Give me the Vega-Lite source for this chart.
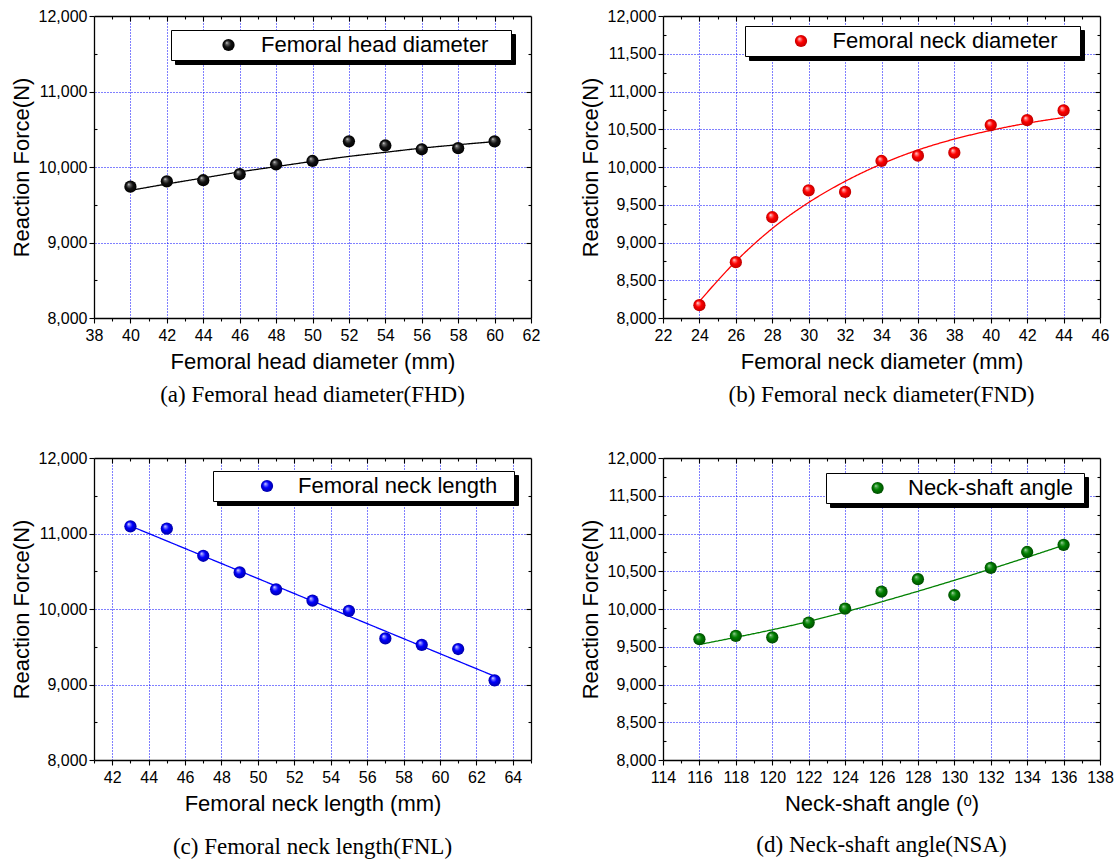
{
"$schema":"https://vega.github.io/schema/vega-lite/v6.json",
"background":"white",
"padding":{"left":10,"top":8,"right":5,"bottom":5},
"columns":2,
"spacing":{"row":43,"column":39},
"datasets":{
"fhd":[{"x":40,"force":9740,"series":"Femoral head diameter"},{"x":42,"force":9810,"series":"Femoral head diameter"},{"x":44,"force":9825,"series":"Femoral head diameter"},{"x":46,"force":9905,"series":"Femoral head diameter"},{"x":48,"force":10035,"series":"Femoral head diameter"},{"x":50,"force":10080,"series":"Femoral head diameter"},{"x":52,"force":10340,"series":"Femoral head diameter"},{"x":54,"force":10285,"series":"Femoral head diameter"},{"x":56,"force":10235,"series":"Femoral head diameter"},{"x":58,"force":10250,"series":"Femoral head diameter"},{"x":60,"force":10340,"series":"Femoral head diameter"}],
"fhd_fit":[{"x":40,"force":9690,"series":"Femoral head diameter"},{"x":42,"force":9775,"series":"Femoral head diameter"},{"x":44,"force":9855,"series":"Femoral head diameter"},{"x":46,"force":9935,"series":"Femoral head diameter"},{"x":48,"force":10005,"series":"Femoral head diameter"},{"x":50,"force":10075,"series":"Femoral head diameter"},{"x":52,"force":10140,"series":"Femoral head diameter"},{"x":54,"force":10195,"series":"Femoral head diameter"},{"x":56,"force":10250,"series":"Femoral head diameter"},{"x":58,"force":10295,"series":"Femoral head diameter"},{"x":60,"force":10336,"series":"Femoral head diameter"}],
"fnd":[{"x":24,"force":8170,"series":"Femoral neck diameter"},{"x":26,"force":8740,"series":"Femoral neck diameter"},{"x":28,"force":9335,"series":"Femoral neck diameter"},{"x":30,"force":9690,"series":"Femoral neck diameter"},{"x":32,"force":9670,"series":"Femoral neck diameter"},{"x":34,"force":10080,"series":"Femoral neck diameter"},{"x":36,"force":10150,"series":"Femoral neck diameter"},{"x":38,"force":10190,"series":"Femoral neck diameter"},{"x":40,"force":10555,"series":"Femoral neck diameter"},{"x":42,"force":10620,"series":"Femoral neck diameter"},{"x":44,"force":10750,"series":"Femoral neck diameter"}],
"fnd_fit":[{"x":24,"force":8220,"series":"Femoral neck diameter"},{"x":26,"force":8750,"series":"Femoral neck diameter"},{"x":28,"force":9185,"series":"Femoral neck diameter"},{"x":30,"force":9530,"series":"Femoral neck diameter"},{"x":32,"force":9810,"series":"Femoral neck diameter"},{"x":34,"force":10040,"series":"Femoral neck diameter"},{"x":36,"force":10225,"series":"Femoral neck diameter"},{"x":38,"force":10370,"series":"Femoral neck diameter"},{"x":40,"force":10485,"series":"Femoral neck diameter"},{"x":42,"force":10580,"series":"Femoral neck diameter"},{"x":44,"force":10655,"series":"Femoral neck diameter"}],
"fnl":[{"x":43,"force":11095,"series":"Femoral neck length"},{"x":45,"force":11065,"series":"Femoral neck length"},{"x":47,"force":10705,"series":"Femoral neck length"},{"x":49,"force":10485,"series":"Femoral neck length"},{"x":51,"force":10260,"series":"Femoral neck length"},{"x":53,"force":10110,"series":"Femoral neck length"},{"x":55,"force":9975,"series":"Femoral neck length"},{"x":57,"force":9610,"series":"Femoral neck length"},{"x":59,"force":9525,"series":"Femoral neck length"},{"x":61,"force":9470,"series":"Femoral neck length"},{"x":63,"force":9055,"series":"Femoral neck length"}],
"fnl_fit":[{"x":43,"force":11100,"series":"Femoral neck length"},{"x":63,"force":9110,"series":"Femoral neck length"}],
"nsa":[{"x":116,"force":9600,"series":"Neck-shaft angle"},{"x":118,"force":9645,"series":"Neck-shaft angle"},{"x":120,"force":9625,"series":"Neck-shaft angle"},{"x":122,"force":9820,"series":"Neck-shaft angle"},{"x":124,"force":10005,"series":"Neck-shaft angle"},{"x":126,"force":10230,"series":"Neck-shaft angle"},{"x":128,"force":10395,"series":"Neck-shaft angle"},{"x":130,"force":10185,"series":"Neck-shaft angle"},{"x":132,"force":10545,"series":"Neck-shaft angle"},{"x":134,"force":10755,"series":"Neck-shaft angle"},{"x":136,"force":10850,"series":"Neck-shaft angle"}],
"nsa_fit":[{"x":116,"force":9530,"series":"Neck-shaft angle"},{"x":118,"force":9625,"series":"Neck-shaft angle"},{"x":120,"force":9725,"series":"Neck-shaft angle"},{"x":122,"force":9835,"series":"Neck-shaft angle"},{"x":124,"force":9960,"series":"Neck-shaft angle"},{"x":126,"force":10095,"series":"Neck-shaft angle"},{"x":128,"force":10235,"series":"Neck-shaft angle"},{"x":130,"force":10380,"series":"Neck-shaft angle"},{"x":132,"force":10530,"series":"Neck-shaft angle"},{"x":134,"force":10685,"series":"Neck-shaft angle"},{"x":136,"force":10845,"series":"Neck-shaft angle"}]
},
"concat":[
{
"width":437,"height":302,
"title":{"text":"(a) Femoral head diameter(FHD)","orient":"bottom","offset":12},
"resolve":{"axis":{"x":"independent","y":"independent"}},
"layer":[
{"data":{"name":"fhd_fit"},"mark":{"type":"line","color":"#000000","strokeWidth":1.3,"interpolate":"monotone"},
"encoding":{
"x":{"field":"x","type":"quantitative","scale":{"domain":[38,62],"nice":false,"zero":false},"axis":{"orient":"top","values":[40,42,44,46,48,50,52,54,56,58,60],"tickSize":-5,"labels":false,"title":null,"grid":true}},
"y":{"field":"force","type":"quantitative","scale":{"domain":[8000,12000],"nice":false,"zero":false},"axis":{"orient":"right","values":[9000,10000,11000],"tickSize":-5,"labels":false,"title":null,"grid":true}},
"strokeDash":{"field":"series","type":"nominal","scale":{"range":[[1,0]]},"legend":{"orient":"none","legendX":81,"legendY":18,"zindex":0,"title":null,"symbolOffset":309.75,"labelOffset":0,"labelExpr":"''","fillColor":"#000000","strokeColor":"#000000","labelColor":"#000000","symbolType":"circle","symbolSize":150,"encode":{"symbols":{"update":{"fill":{"value":"#000000"},"stroke":{"value":"#000000"}}}}}}
}},
{"data":{"name":"fhd"},"mark":{"type":"point","opacity":0},
"encoding":{
"x":{"field":"x","type":"quantitative","scale":{"domain":[38,62],"nice":false,"zero":false},"axis":{"orient":"top","values":[39,41,43,45,47,49,51,53,55,57,59,61],"tickSize":-3,"labels":false,"title":null,"domain":false}},
"y":{"field":"force","type":"quantitative","scale":{"domain":[8000,12000],"nice":false,"zero":false},"axis":{"orient":"right","values":[8500,9500,10500,11500],"tickSize":-3,"labels":false,"title":null,"domain":false}}
}},
{"data":{"name":"fhd"},"mark":{"type":"point","opacity":0},
"encoding":{
"x":{"field":"x","type":"quantitative","scale":{"domain":[38,62],"nice":false,"zero":false},"axis":{"orient":"bottom","values":[39,41,43,45,47,49,51,53,55,57,59,61],"tickSize":3,"labels":false,"title":null,"domain":false}},
"y":{"field":"force","type":"quantitative","scale":{"domain":[8000,12000],"nice":false,"zero":false},"axis":{"orient":"left","values":[8500,9500,10500,11500],"tickSize":-3,"labels":false,"title":null,"domain":false}}
}},
{"data":{"name":"fhd"},"mark":{"type":"point","filled":true,"size":150,"opacity":1,"strokeWidth":0,"fill":{"gradient":"radial","x1":0.35,"y1":0.3,"r1":0,"x2":0.5,"y2":0.5,"r2":0.5,"stops":[{"offset":0,"color":"#f0f0f0"},{"offset":0.18,"color":"#707070"},{"offset":0.55,"color":"#111111"},{"offset":1,"color":"#000000"}]}},
"encoding":{
"x":{"field":"x","type":"quantitative","scale":{"domain":[38,62],"nice":false,"zero":false},"axis":{"orient":"bottom","values":[38,40,42,44,46,48,50,52,54,56,58,60,62],"format":"d","tickSize":5,"labelPadding":4,"title":"Femoral head diameter (mm)","titlePadding":8}},
"y":{"field":"force","type":"quantitative","scale":{"domain":[8000,12000],"nice":false,"zero":false},"axis":{"orient":"left","values":[8000,9000,10000,11000,12000],"format":",d","tickSize":5,"labelPadding":2,"title":"Reaction Force(N)","titlePadding":5}},
"shape":{"field":"series","type":"nominal","scale":{"range":["circle"]},"legend":{"orient":"none","legendX":77,"legendY":14,"zindex":1,"title":null,"symbolOffset":42.5,"labelOffset":21.5,"labelExpr":"datum.label + '\u00a0\u00a0\u00a0\u200b'","fillColor":"#ffffff","strokeColor":"#000000","symbolType":"circle","symbolSize":150,"encode":{"symbols":{"update":{"fill":{"value":{"gradient":"radial","x1":0.35,"y1":0.3,"r1":0,"x2":0.5,"y2":0.5,"r2":0.5,"stops":[{"offset":0,"color":"#f0f0f0"},{"offset":0.18,"color":"#707070"},{"offset":0.55,"color":"#111111"},{"offset":1,"color":"#000000"}]}},"stroke":{"value":"transparent"}}}}}}
}}
]
},
{
"width":437,"height":302,
"title":{"text":"(b) Femoral neck diameter(FND)","orient":"bottom","offset":12},
"resolve":{"axis":{"x":"independent","y":"independent"}},
"layer":[
{"data":{"name":"fnd_fit"},"mark":{"type":"line","color":"#ff0000","strokeWidth":1.3,"interpolate":"monotone"},
"encoding":{
"x":{"field":"x","type":"quantitative","scale":{"domain":[22,46],"nice":false,"zero":false},"axis":{"orient":"top","values":[24,26,28,30,32,34,36,38,40,42,44],"tickSize":-5,"labels":false,"title":null,"grid":true}},
"y":{"field":"force","type":"quantitative","scale":{"domain":[8000,12000],"nice":false,"zero":false},"axis":{"orient":"right","values":[8500,9000,9500,10000,10500,11000,11500],"tickSize":-5,"labels":false,"title":null,"grid":true}},
"strokeDash":{"field":"series","type":"nominal","scale":{"range":[[1,0]]},"legend":{"orient":"none","legendX":86,"legendY":14,"zindex":0,"title":null,"symbolOffset":304.9,"labelOffset":0,"labelExpr":"''","fillColor":"#000000","strokeColor":"#000000","labelColor":"#000000","symbolType":"circle","symbolSize":150,"encode":{"symbols":{"update":{"fill":{"value":"#000000"},"stroke":{"value":"#000000"}}}}}}
}},
{"data":{"name":"fnd"},"mark":{"type":"point","opacity":0},
"encoding":{
"x":{"field":"x","type":"quantitative","scale":{"domain":[22,46],"nice":false,"zero":false},"axis":{"orient":"top","values":[23,25,27,29,31,33,35,37,39,41,43,45],"tickSize":-3,"labels":false,"title":null,"domain":false}},
"y":{"field":"force","type":"quantitative","scale":{"domain":[8000,12000],"nice":false,"zero":false},"axis":{"orient":"right","values":[8250,8750,9250,9750,10250,10750,11250,11750],"tickSize":-3,"labels":false,"title":null,"domain":false}}
}},
{"data":{"name":"fnd"},"mark":{"type":"point","opacity":0},
"encoding":{
"x":{"field":"x","type":"quantitative","scale":{"domain":[22,46],"nice":false,"zero":false},"axis":{"orient":"bottom","values":[23,25,27,29,31,33,35,37,39,41,43,45],"tickSize":3,"labels":false,"title":null,"domain":false}},
"y":{"field":"force","type":"quantitative","scale":{"domain":[8000,12000],"nice":false,"zero":false},"axis":{"orient":"left","values":[8250,8750,9250,9750,10250,10750,11250,11750],"tickSize":-3,"labels":false,"title":null,"domain":false}}
}},
{"data":{"name":"fnd"},"mark":{"type":"point","filled":true,"size":150,"opacity":1,"strokeWidth":0,"fill":{"gradient":"radial","x1":0.35,"y1":0.3,"r1":0,"x2":0.5,"y2":0.5,"r2":0.5,"stops":[{"offset":0,"color":"#ffffff"},{"offset":0.15,"color":"#ff9090"},{"offset":0.5,"color":"#ff0000"},{"offset":1,"color":"#c00000"}]}},
"encoding":{
"x":{"field":"x","type":"quantitative","scale":{"domain":[22,46],"nice":false,"zero":false},"axis":{"orient":"bottom","values":[22,24,26,28,30,32,34,36,38,40,42,44,46],"format":"d","tickSize":5,"labelPadding":4,"title":"Femoral neck diameter (mm)","titlePadding":8}},
"y":{"field":"force","type":"quantitative","scale":{"domain":[8000,12000],"nice":false,"zero":false},"axis":{"orient":"left","values":[8000,8500,9000,9500,10000,10500,11000,11500,12000],"format":",d","tickSize":5,"labelPadding":2,"title":"Reaction Force(N)","titlePadding":5}},
"shape":{"field":"series","type":"nominal","scale":{"range":["circle"]},"legend":{"orient":"none","legendX":82,"legendY":10,"zindex":1,"title":null,"symbolOffset":41,"labelOffset":20.6,"labelExpr":"datum.label + '\u00a0\u00a0\u00a0\u200b'","fillColor":"#ffffff","strokeColor":"#000000","symbolType":"circle","symbolSize":150,"encode":{"symbols":{"update":{"fill":{"value":{"gradient":"radial","x1":0.35,"y1":0.3,"r1":0,"x2":0.5,"y2":0.5,"r2":0.5,"stops":[{"offset":0,"color":"#ffffff"},{"offset":0.15,"color":"#ff9090"},{"offset":0.5,"color":"#ff0000"},{"offset":1,"color":"#c00000"}]}},"stroke":{"value":"transparent"}}}}}}
}}
]
},
{
"width":437,"height":302,
"title":{"text":"(c) Femoral neck length(FNL)","orient":"bottom","offset":22},
"resolve":{"axis":{"x":"independent","y":"independent"}},
"layer":[
{"data":{"name":"fnl_fit"},"mark":{"type":"line","color":"#0000ff","strokeWidth":1.3},
"encoding":{
"x":{"field":"x","type":"quantitative","scale":{"domain":[41,65],"nice":false,"zero":false},"axis":{"orient":"top","values":[42,44,46,48,50,52,54,56,58,60,62,64],"tickSize":-5,"labels":false,"title":null,"grid":true}},
"y":{"field":"force","type":"quantitative","scale":{"domain":[8000,12000],"nice":false,"zero":false},"axis":{"orient":"right","values":[9000,10000,11000],"tickSize":-5,"labels":false,"title":null,"grid":true}},
"strokeDash":{"field":"series","type":"nominal","scale":{"range":[[1,0]]},"legend":{"orient":"none","legendX":123,"legendY":17,"zindex":0,"title":null,"symbolOffset":270.5,"labelOffset":0,"labelExpr":"''","fillColor":"#000000","strokeColor":"#000000","labelColor":"#000000","symbolType":"circle","symbolSize":150,"encode":{"symbols":{"update":{"fill":{"value":"#000000"},"stroke":{"value":"#000000"}}}}}}
}},
{"data":{"name":"fnl"},"mark":{"type":"point","opacity":0},
"encoding":{
"x":{"field":"x","type":"quantitative","scale":{"domain":[41,65],"nice":false,"zero":false},"axis":{"orient":"top","values":[43,45,47,49,51,53,55,57,59,61,63],"tickSize":-3,"labels":false,"title":null,"domain":false}},
"y":{"field":"force","type":"quantitative","scale":{"domain":[8000,12000],"nice":false,"zero":false},"axis":{"orient":"right","values":[8500,9500,10500,11500],"tickSize":-3,"labels":false,"title":null,"domain":false}}
}},
{"data":{"name":"fnl"},"mark":{"type":"point","opacity":0},
"encoding":{
"x":{"field":"x","type":"quantitative","scale":{"domain":[41,65],"nice":false,"zero":false},"axis":{"orient":"bottom","values":[41,43,45,47,49,51,53,55,57,59,61,63,65],"tickSize":3,"labels":false,"title":null,"domain":false}},
"y":{"field":"force","type":"quantitative","scale":{"domain":[8000,12000],"nice":false,"zero":false},"axis":{"orient":"left","values":[8500,9500,10500,11500],"tickSize":-3,"labels":false,"title":null,"domain":false}}
}},
{"data":{"name":"fnl"},"mark":{"type":"point","filled":true,"size":150,"opacity":1,"strokeWidth":0,"fill":{"gradient":"radial","x1":0.35,"y1":0.3,"r1":0,"x2":0.5,"y2":0.5,"r2":0.5,"stops":[{"offset":0,"color":"#ffffff"},{"offset":0.15,"color":"#9090ff"},{"offset":0.5,"color":"#0000ff"},{"offset":1,"color":"#0000a8"}]}},
"encoding":{
"x":{"field":"x","type":"quantitative","scale":{"domain":[41,65],"nice":false,"zero":false},"axis":{"orient":"bottom","values":[42,44,46,48,50,52,54,56,58,60,62,64],"format":"d","tickSize":5,"labelPadding":4,"title":"Femoral neck length (mm)","titlePadding":8}},
"y":{"field":"force","type":"quantitative","scale":{"domain":[8000,12000],"nice":false,"zero":false},"axis":{"orient":"left","values":[8000,9000,10000,11000,12000],"format":",d","tickSize":5,"labelPadding":2,"title":"Reaction Force(N)","titlePadding":5}},
"shape":{"field":"series","type":"nominal","scale":{"range":["circle"]},"legend":{"orient":"none","legendX":119,"legendY":13,"zindex":1,"title":null,"symbolOffset":39,"labelOffset":20,"labelExpr":"datum.label + '\u00a0\u00a0\u200b'","fillColor":"#ffffff","strokeColor":"#000000","symbolType":"circle","symbolSize":150,"encode":{"symbols":{"update":{"fill":{"value":{"gradient":"radial","x1":0.35,"y1":0.3,"r1":0,"x2":0.5,"y2":0.5,"r2":0.5,"stops":[{"offset":0,"color":"#ffffff"},{"offset":0.15,"color":"#9090ff"},{"offset":0.5,"color":"#0000ff"},{"offset":1,"color":"#0000a8"}]}},"stroke":{"value":"transparent"}}}}}}
}}
]
},
{
"width":437,"height":302,
"title":{"text":"(d) Neck-shaft angle(NSA)","orient":"bottom","offset":20},
"resolve":{"axis":{"x":"independent","y":"independent"}},
"layer":[
{"data":{"name":"nsa_fit"},"mark":{"type":"line","color":"#008000","strokeWidth":1.3,"interpolate":"monotone"},
"encoding":{
"x":{"field":"x","type":"quantitative","scale":{"domain":[114,138],"nice":false,"zero":false},"axis":{"orient":"top","values":[116,118,120,122,124,126,128,130,132,134,136],"tickSize":-5,"labels":false,"title":null,"grid":true}},
"y":{"field":"force","type":"quantitative","scale":{"domain":[8000,12000],"nice":false,"zero":false},"axis":{"orient":"right","values":[8500,9000,9500,10000,10500,11000,11500],"tickSize":-5,"labels":false,"title":null,"grid":true}},
"strokeDash":{"field":"series","type":"nominal","scale":{"range":[[1,0]]},"legend":{"orient":"none","legendX":167,"legendY":19,"zindex":0,"title":null,"symbolOffset":227.2,"labelOffset":0,"labelExpr":"''","fillColor":"#000000","strokeColor":"#000000","labelColor":"#000000","symbolType":"circle","symbolSize":150,"encode":{"symbols":{"update":{"fill":{"value":"#000000"},"stroke":{"value":"#000000"}}}}}}
}},
{"data":{"name":"nsa"},"mark":{"type":"point","opacity":0},
"encoding":{
"x":{"field":"x","type":"quantitative","scale":{"domain":[114,138],"nice":false,"zero":false},"axis":{"orient":"top","values":[115,117,119,121,123,125,127,129,131,133,135,137],"tickSize":-3,"labels":false,"title":null,"domain":false}},
"y":{"field":"force","type":"quantitative","scale":{"domain":[8000,12000],"nice":false,"zero":false},"axis":{"orient":"right","values":[8250,8750,9250,9750,10250,10750,11250,11750],"tickSize":-3,"labels":false,"title":null,"domain":false}}
}},
{"data":{"name":"nsa"},"mark":{"type":"point","opacity":0},
"encoding":{
"x":{"field":"x","type":"quantitative","scale":{"domain":[114,138],"nice":false,"zero":false},"axis":{"orient":"bottom","values":[115,117,119,121,123,125,127,129,131,133,135,137],"tickSize":3,"labels":false,"title":null,"domain":false}},
"y":{"field":"force","type":"quantitative","scale":{"domain":[8000,12000],"nice":false,"zero":false},"axis":{"orient":"left","values":[8250,8750,9250,9750,10250,10750,11250,11750],"tickSize":-3,"labels":false,"title":null,"domain":false}}
}},
{"data":{"name":"nsa"},"mark":{"type":"point","filled":true,"size":150,"opacity":1,"strokeWidth":0,"fill":{"gradient":"radial","x1":0.35,"y1":0.3,"r1":0,"x2":0.5,"y2":0.5,"r2":0.5,"stops":[{"offset":0,"color":"#e8ffe8"},{"offset":0.15,"color":"#60b060"},{"offset":0.5,"color":"#008000"},{"offset":1,"color":"#004c00"}]}},
"encoding":{
"x":{"field":"x","type":"quantitative","scale":{"domain":[114,138],"nice":false,"zero":false},"axis":{"orient":"bottom","values":[114,116,118,120,122,124,126,128,130,132,134,136,138],"format":"d","tickSize":5,"labelPadding":4,"title":"Neck-shaft angle (ᵒ)","titlePadding":8}},
"y":{"field":"force","type":"quantitative","scale":{"domain":[8000,12000],"nice":false,"zero":false},"axis":{"orient":"left","values":[8000,8500,9000,9500,10000,10500,11000,11500,12000],"format":",d","tickSize":5,"labelPadding":2,"title":"Reaction Force(N)","titlePadding":5}},
"shape":{"field":"series","type":"nominal","scale":{"range":["circle"]},"legend":{"orient":"none","legendX":163,"legendY":15,"zindex":1,"title":null,"symbolOffset":36.6,"labelOffset":19.4,"labelExpr":"datum.label + '\u00a0\u200b'","fillColor":"#ffffff","strokeColor":"#000000","symbolType":"circle","symbolSize":150,"encode":{"symbols":{"update":{"fill":{"value":{"gradient":"radial","x1":0.35,"y1":0.3,"r1":0,"x2":0.5,"y2":0.5,"r2":0.5,"stops":[{"offset":0,"color":"#e8ffe8"},{"offset":0.15,"color":"#60b060"},{"offset":0.5,"color":"#008000"},{"offset":1,"color":"#004c00"}]}},"stroke":{"value":"transparent"}}}}}}
}}
]
}
],
"resolve":{"scale":{"shape":"independent","strokeDash":"independent"}},
"config":{
"view":{"stroke":null},
"axis":{"domainColor":"#000000","domainWidth":1.3,"tickColor":"#000000","tickWidth":1.1,"labelFont":"Liberation Sans","labelFontSize":16,"labelColor":"#000000","labelFlush":false,"labelOverlap":false,"titleFont":"Liberation Sans","titleFontSize":22,"titleFontWeight":"normal","titleColor":"#000000","gridColor":"#0000ff","gridDash":[1,2],"gridWidth":1,"gridOpacity":1,"grid":false},
"legend":{"padding":4,"labelFont":"Liberation Sans","labelFontSize":22,"labelColor":"#000000","labelLimit":500,"cornerRadius":0},
"title":{"font":"Liberation Serif","fontSize":23,"fontWeight":"normal","color":"#000000","anchor":"middle"}
}
}
